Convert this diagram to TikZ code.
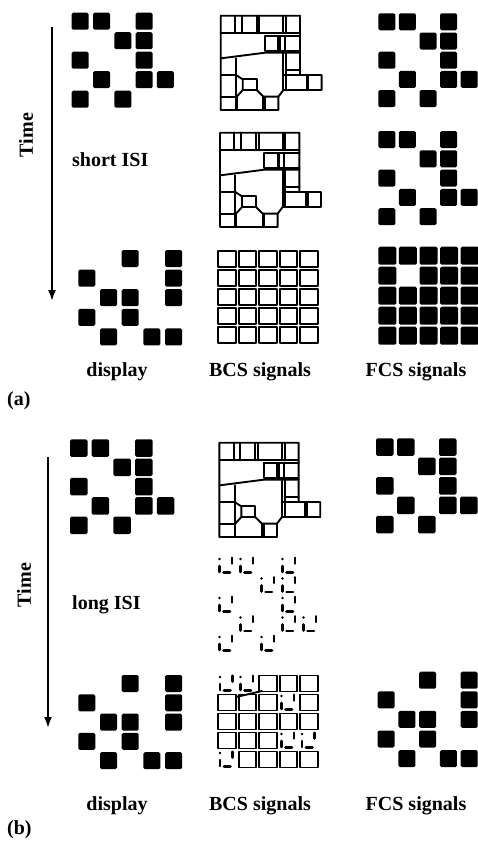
\documentclass[tikz,border=0pt]{standalone}
\usepackage{fontspec}
\setmainfont{Liberation Serif}
\usetikzlibrary{arrows.meta}
\tikzset{
  sq/.style={fill=black, rounded corners=1.5pt},
  bcs/.style={line width=1.9pt, line join=round, line cap=round},
  fragl/.style={line width=2.6pt, line cap=round},
  lbl/.style={font=\bfseries\fontsize{20}{24}\selectfont, inner sep=0pt},
  timearrow/.style={line width=1.8pt, -{Latex[length=11pt,width=8pt]}},
}
\def\patA{0/0,0/1,0/3,1/2,1/3,2/0,2/3,3/1,3/3,3/4,4/0,4/2}
\def\patB{0/2,0/4,1/0,1/4,2/1,2/2,2/4,3/0,3/2,4/1,4/3,4/4}
\def\patC{0/0,0/1,0/2,0/3,0/4,1/0,1/2,1/3,1/4,2/0,2/1,2/2,2/3,2/4,3/0,3/1,3/2,3/3,3/4,4/0,4/1,4/2,4/3,4/4}
% x0 y0 dx dy size pattern
\newcommand\sqpat[6]{\foreach \r/\c in #6 {\fill[sq] ({#1+\c*#3},{#2+\r*#4}) rectangle ++(#5,#5);}}
% boundary segmentation of the first display
\newcommand\bcsfirst[2]{\begin{scope}[shift={(#1,#2)}, x=0.3333pt, y=-0.3333pt, shift={(-62,-47)}]
  \draw[bcs] (62,47) -- (300,47) -- (300,225) -- (365,225) -- (365,270) -- (250,270) -- (235,290) -- (235,330) -- (62,330) -- cycle;
  \draw[bcs] (62,100) -- (300,100);
  \draw[bcs] (105,47) -- (105,100) (125,47) -- (125,100) (170,47) -- (170,100) (178,47) -- (178,100) (250,47) -- (250,100) (258,47) -- (258,100);
  \draw[bcs] (195,108) -- (300,108);
  \draw[bcs] (195,108) -- (195,152) -- (300,152);
  \draw[bcs] (235,108) -- (235,152) (240,108) -- (240,152) (255,108) -- (255,152);
  \draw[bcs] (62,175) -- (195,158) -- (300,158);
  \draw[bcs] (108,175) -- (108,330);
  \draw[bcs] (62,225) -- (108,225) (62,290) -- (110,290);
  \draw[bcs] (250,158) -- (250,270) (258,158) -- (258,270);
  \draw[bcs] (258,210) -- (300,210) (250,225) -- (300,225);
  \draw[bcs] (320,225) -- (320,270) (325,225) -- (325,270);
  \draw[bcs] (108,225) -- (128,238) -- (128,270) -- (110,290);
  \draw[bcs] (128,238) -- (170,238) -- (170,270) -- (128,270);
  \draw[bcs] (170,270) -- (190,290) -- (235,290);
  \draw[bcs] (110,290) -- (110,330) (190,290) -- (190,330) (195,290) -- (195,330);
\end{scope}}
% decaying (fragmented) boundary cell
\newcommand\fragcell[2]{\begin{scope}[shift={(#1,#2)}]
  \fill (1.5,2) circle (1.4);
  \draw[fragl] (14,0.8) -- (14,6.5);
  \draw[fragl] (1.5,9) -- (1.5,15);
  \draw[fragl] (5.5,15.5) -- (12,15.5);
\end{scope}}
\begin{document}
\begin{tikzpicture}[x=1pt,y=-1pt]
\useasboundingbox (0,0) rectangle (477,841);
% ---------------- (a) ----------------
\node[lbl, rotate=90] (timeA) at (26,135) {Time};
\coordinate (tA0) at (52,27);
\coordinate (tA1) at (52,301);
\draw[timearrow] (tA0) -- (tA1);
\sqpat{71.7}{12.7}{21.3}{19.5}{17}{\patA}
\bcsfirst{220.7}{15.7}
\sqpat{378.3}{13.3}{20.6}{19.2}{17}{\patA}
\node[lbl, anchor=base west] (shortisi) at (72,166.5) {short ISI};
\bcsfirst{220}{132.7}
\sqpat{378.3}{131}{20.6}{19.3}{17}{\patA}
\sqpat{78.3}{250}{21.7}{19.6}{17}{\patB}
\foreach \i in {0,...,4} \foreach \j in {0,...,4}
  \draw[bcs] ({218.3+20.5*\i},{250.7+19.1*\j}) rectangle ++(17.4,16.2);
\sqpat{378.3}{246.7}{20.6}{20}{18}{\patC}
\node[lbl, anchor=base] (dispA) at (117,376.5) {display};
\node[lbl, anchor=base] (bcsA) at (260,376.5) {BCS signals};
\node[lbl, anchor=base] (fcsA) at (416,376.5) {FCS signals};
\node[lbl, anchor=base west] (labA) at (7,405) {(a)};
% ---------------- (b) ----------------
\node[lbl, rotate=90] (timeB) at (24,585) {Time};
\coordinate (tB0) at (48,457);
\coordinate (tB1) at (48,728);
\draw[timearrow] (tB0) -- (tB1);
\sqpat{70}{439.3}{21.7}{19.3}{17.5}{\patA}
\bcsfirst{219.3}{442.7}
\sqpat{376}{438.3}{21}{19.4}{17.5}{\patA}
\node[lbl, anchor=base west] (longisi) at (72,609) {long ISI};
\foreach \r/\c in \patA {\fragcell{218+21*\c}{557+19.5*\r}}
\sqpat{78.3}{675}{21.7}{19.3}{17}{\patB}
\foreach \i/\j in {2/0,3/0,4/0,0/1,1/1,2/1,4/1,0/2,1/2,2/2,3/2,4/2,0/3,1/3,2/3,1/4,2/4,3/4,4/4}
  \draw[bcs] ({218.3+20.5*\i},{675.5+19*\j}) rectangle ++(17.4,16);
\foreach \r/\c in {0/0,0/1,1/3,3/3,3/4,4/0} {\fragcell{218.5+20.5*\c}{675+19*\r}}
\draw[bcs] (236,697) -- (262,691);
\sqpat{377.7}{671.7}{20.75}{19.6}{17}{\patB}
\node[lbl, anchor=base] (dispB) at (117,810) {display};
\node[lbl, anchor=base] (bcsB) at (260,810) {BCS signals};
\node[lbl, anchor=base] (fcsB) at (416,810) {FCS signals};
\node[lbl, anchor=base west] (labB) at (7,834) {(b)};
\end{tikzpicture}
\end{document}
